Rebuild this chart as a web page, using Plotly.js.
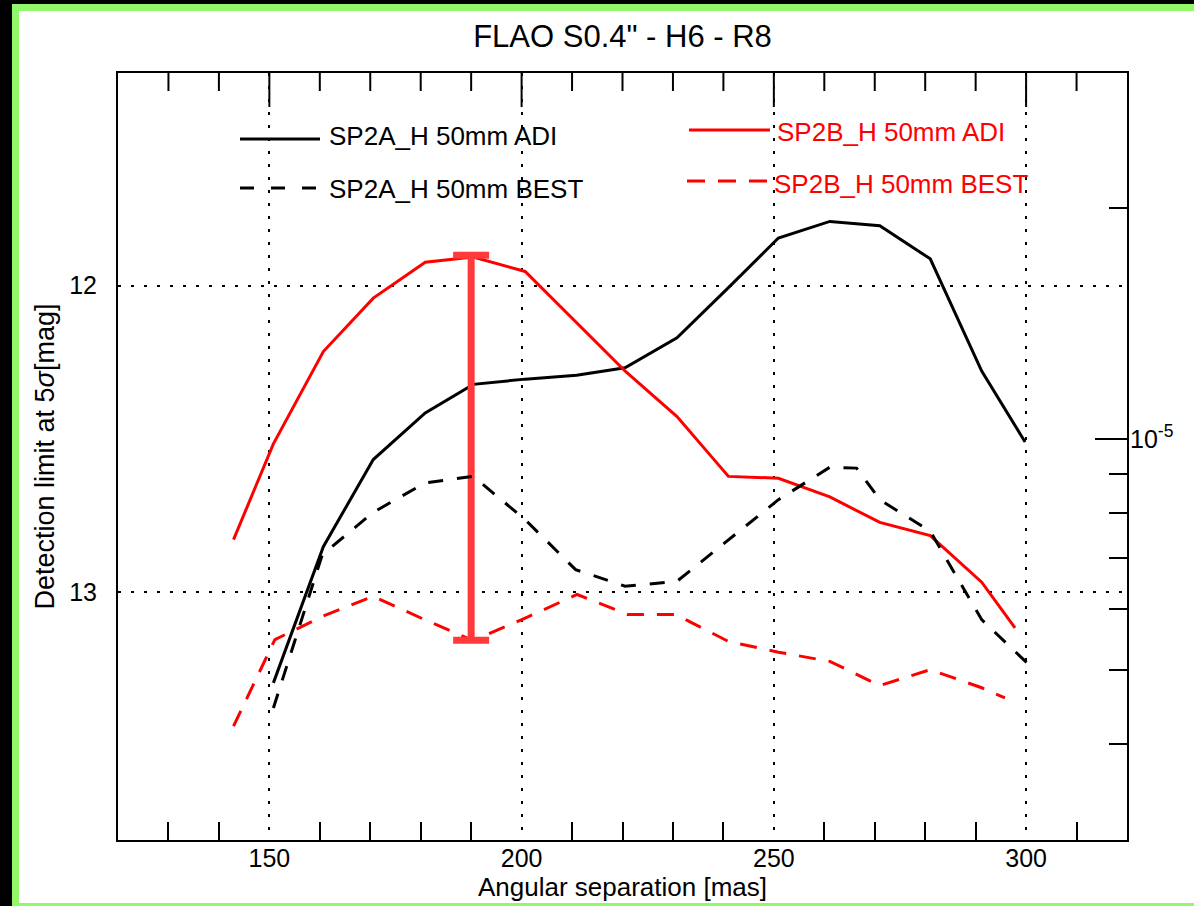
<!DOCTYPE html>
<html>
<head>
<meta charset="utf-8">
<script src="https://cdn.plot.ly/plotly-3.0.1.min.js"></script>
<style>
  html, body { margin: 0; padding: 0; background: #ffffff; }
  #wrap { position: relative; width: 1194px; height: 906px; overflow: hidden; }
  #chart { position: absolute; left: 0; top: 0; width: 1194px; height: 906px; }
  .edge { position: absolute; pointer-events: none; }
</style>
</head>
<body>
<div id="wrap">
  <div id="chart"></div>
  <div class="edge" style="left:0;top:0;width:12px;height:906px;background:#000;"></div>
  <div class="edge" style="left:0;top:0;width:1194px;height:4px;background:#000;"></div>
  <div class="edge" style="left:12px;top:4px;width:7px;height:902px;background:#93f76a;"></div>
  <div class="edge" style="left:12px;top:4px;width:1182px;height:7px;background:#93f76a;"></div>
  <div class="edge" style="left:12px;top:903px;width:1182px;height:3px;background:#93f76a;"></div>
</div>
<script>
// ---- data (angular separation in mas, detection limit in mag) ----
const sepBlackADI  = [150.8, 160.7, 170.6, 180.9, 190.4, 200.7, 210.9, 220.5, 230.8, 241.0, 250.9, 261.1, 271.0, 281.0, 291.2, 299.8];
const magBlackADI  = [13.295, 12.851, 12.567, 12.415, 12.322, 12.305, 12.292, 12.268, 12.170, 12.007, 11.845, 11.791, 11.805, 11.913, 12.279, 12.510];

const sepBlackBEST = [150.8, 160.5, 170.6, 180.9, 190.4, 200.7, 210.7, 220.5, 230.8, 241.0, 250.9, 261.1, 266.4, 271.0, 281.0, 291.2, 300.2];
const magBlackBEST = [13.377, 12.877, 12.739, 12.643, 12.622, 12.763, 12.926, 12.980, 12.964, 12.828, 12.698, 12.592, 12.595, 12.698, 12.801, 13.089, 13.230];

const sepRedADI    = [142.9, 150.8, 160.7, 170.6, 180.9, 190.4, 200.7, 210.7, 220.6, 230.8, 241.0, 250.9, 261.1, 271.0, 281.0, 291.2, 297.8];
const magRedADI    = [12.828, 12.516, 12.215, 12.041, 11.924, 11.907, 11.954, 12.117, 12.280, 12.427, 12.622, 12.628, 12.689, 12.772, 12.815, 12.967, 13.116];

const sepRedBEST   = [142.9, 151.1, 160.7, 170.6, 180.9, 190.4, 200.7, 211.0, 221.0, 230.5, 241.0, 250.9, 261.1, 271.0, 281.0, 291.2, 295.8];
const magRedBEST   = [13.436, 13.154, 13.077, 13.013, 13.090, 13.157, 13.084, 13.007, 13.072, 13.072, 13.160, 13.195, 13.225, 13.304, 13.252, 13.311, 13.344];

// error bar (range spanned by the red curves at ~190 mas)
const errSep    = [190.0];
const errTop    = [11.901];
const errBottom = [13.156];

// axes
const xTicks = [150, 200, 250, 300];
const xMinorTicks = [130, 140, 160, 170, 180, 190, 210, 220, 230, 240, 260, 270, 280, 290, 310];
const magTicks = [12, 13];
const contrastRange = [3e-6, 3e-5];
const contrastMajor = [1e-5];
const contrastMajorText = ['10<sup>-5</sup>'];
const contrastMinor = [2e-5, 9e-6, 8e-6, 7e-6, 6e-6, 5e-6, 4e-6];

// legend labels
const names = ['SP2A_H 50mm ADI', 'SP2A_H 50mm BEST', 'SP2B_H 50mm ADI', 'SP2B_H 50mm BEST'];

const toMag = c => -2.5 * Math.log10(c);
const yRange = [toMag(contrastRange[0]), toMag(contrastRange[1])];

const FONT = 'Liberation Sans, Arial, Helvetica, sans-serif';
const RED = '#ff0000';
const DASH = '15px,14px';
const PLOT_H = 906 - 73 - 66;

const traces = [
  {x: sepBlackADI, y: magBlackADI, mode: 'lines', name: names[0], xaxis: 'x', yaxis: 'y', line: {color: '#000', width: 3}},
  {x: sepBlackBEST, y: magBlackBEST, mode: 'lines', name: names[1], xaxis: 'x', yaxis: 'y3', line: {color: '#000', width: 3, dash: DASH}},
  {x: sepRedBEST, y: magRedBEST, mode: 'lines', name: names[3], xaxis: 'x', yaxis: 'y', line: {color: RED, width: 3, dash: '17px,13px'}},
  {x: sepRedADI, y: magRedADI, mode: 'lines', name: names[2], xaxis: 'x', yaxis: 'y2', line: {color: RED, width: 3}},
  {x: errSep, y: errTop, mode: 'markers', xaxis: 'x', yaxis: 'y2', marker: {size: 1, opacity: 0}, name: 'range',
   error_y: {type: 'data', symmetric: false,
             array: errBottom.map((b, i) => b - errTop[i]), arrayminus: errTop.map(() => 0),
             color: 'rgb(255,58,58)', thickness: 7, width: 18}}
];

const gridStyle = {showgrid: true, gridcolor: '#000', gridwidth: 2, griddash: '3px,10px'};

// tick marks hanging from the top frame (long at major, short at minor separations)
const topTick = (v, len) => ({
  type: 'line', layer: 'above', xref: 'x', yref: 'paper', x0: v, x1: v, y0: 1, y1: 1 - len / PLOT_H,
  line: {color: '#000', width: 2}
});
const topTicks = xTicks.map(v => topTick(v, 34)).concat(xMinorTicks.map(v => topTick(v, 18)));

const layout = {
  width: 1194, height: 906,
  margin: {l: 118, r: 67, t: 73, b: 66},
  paper_bgcolor: '#ffffff', plot_bgcolor: '#ffffff',
  showlegend: false,
  font: {family: FONT, color: '#000', size: 25},
  title: {text: 'FLAO S0.4" - H6 - R8', font: {family: FONT, size: 31, color: '#000'},
          x: 0.5, xref: 'paper', xanchor: 'center', y: 1 - 36 / 906, yref: 'container', yanchor: 'middle'},
  xaxis: Object.assign({
    range: [120, 320], autorange: false, tickmode: 'array', tickvals: xTicks,
    ticks: '', showline: true, linecolor: '#000', linewidth: 2, mirror: true, zeroline: false,
    tickfont: {family: FONT, size: 25}, ticklabelstandoff: -5,
    minor: {tickmode: 'array', tickvals: xMinorTicks, ticks: 'inside', ticklen: 18, tickwidth: 2, tickcolor: '#000', showgrid: false},
    title: {text: 'Angular separation [mas]', font: {family: FONT, size: 26}, standoff: 6}
  }, gridStyle),
  yaxis: Object.assign({
    range: yRange, autorange: false, tickmode: 'array', tickvals: magTicks,
    ticks: '', showline: true, linecolor: '#000', linewidth: 2, mirror: true, zeroline: false,
    tickfont: {family: FONT, size: 25}, ticklabelstandoff: 14,
    title: {text: 'Detection limit at 5<i>σ</i>[mag]', font: {family: FONT, size: 27}, standoff: 7}
  }, gridStyle),
  yaxis2: {
    overlaying: 'y', side: 'right', anchor: 'x', range: yRange, autorange: false,
    tickmode: 'array', tickvals: contrastMajor.map(toMag), ticktext: contrastMajorText,
    ticks: 'inside', ticklen: 32, tickwidth: 2, tickcolor: '#000',
    showgrid: false, showline: false, zeroline: false,
    tickfont: {family: FONT, size: 25}, ticklabelstandoff: 2
  },
  yaxis3: {
    overlaying: 'y', side: 'right', anchor: 'x', range: yRange, autorange: false,
    tickmode: 'array', tickvals: contrastMinor.map(toMag),
    ticks: 'inside', ticklen: 18, tickwidth: 2, tickcolor: '#000',
    showticklabels: false, showgrid: false, showline: false, zeroline: false
  },
  shapes: topTicks.concat([
    {type: 'line', xref: 'paper', yref: 'paper', x0: (240 - 118) / 1009, x1: (320 - 118) / 1009, y0: (840 - 139) / 767, y1: (840 - 139) / 767, line: {color: '#000', width: 3}},
    {type: 'line', xref: 'paper', yref: 'paper', x0: (240 - 118) / 1009, x1: (320 - 118) / 1009, y0: (840 - 188) / 767, y1: (840 - 188) / 767, line: {color: '#000', width: 3, dash: '14px,17px'}},
    {type: 'line', xref: 'paper', yref: 'paper', x0: (689 - 118) / 1009, x1: (770 - 118) / 1009, y0: (840 - 130) / 767, y1: (840 - 130) / 767, line: {color: RED, width: 3}},
    {type: 'line', xref: 'paper', yref: 'paper', x0: (687 - 118) / 1009, x1: (770 - 118) / 1009, y0: (840 - 181) / 767, y1: (840 - 181) / 767, line: {color: RED, width: 3, dash: '18px,13px'}}
  ]),
  annotations: [
    {text: names[0], xref: 'paper', yref: 'paper', x: (327 - 118) / 1009, y: (840 - 136) / 767, xanchor: 'left', yanchor: 'middle', showarrow: false, font: {family: FONT, size: 26, color: '#000'}},
    {text: names[1], xref: 'paper', yref: 'paper', x: (327 - 118) / 1009, y: (840 - 189) / 767, xanchor: 'left', yanchor: 'middle', showarrow: false, font: {family: FONT, size: 26, color: '#000'}},
    {text: names[2], xref: 'paper', yref: 'paper', x: (775 - 118) / 1009, y: (840 - 132) / 767, xanchor: 'left', yanchor: 'middle', showarrow: false, font: {family: FONT, size: 26, color: RED}},
    {text: names[3], xref: 'paper', yref: 'paper', x: (772 - 118) / 1009, y: (840 - 184) / 767, xanchor: 'left', yanchor: 'middle', showarrow: false, font: {family: FONT, size: 26, color: RED}}
  ]
};

Plotly.newPlot('chart', traces, layout, {displayModeBar: false, staticPlot: true});
</script>
</body>
</html>
